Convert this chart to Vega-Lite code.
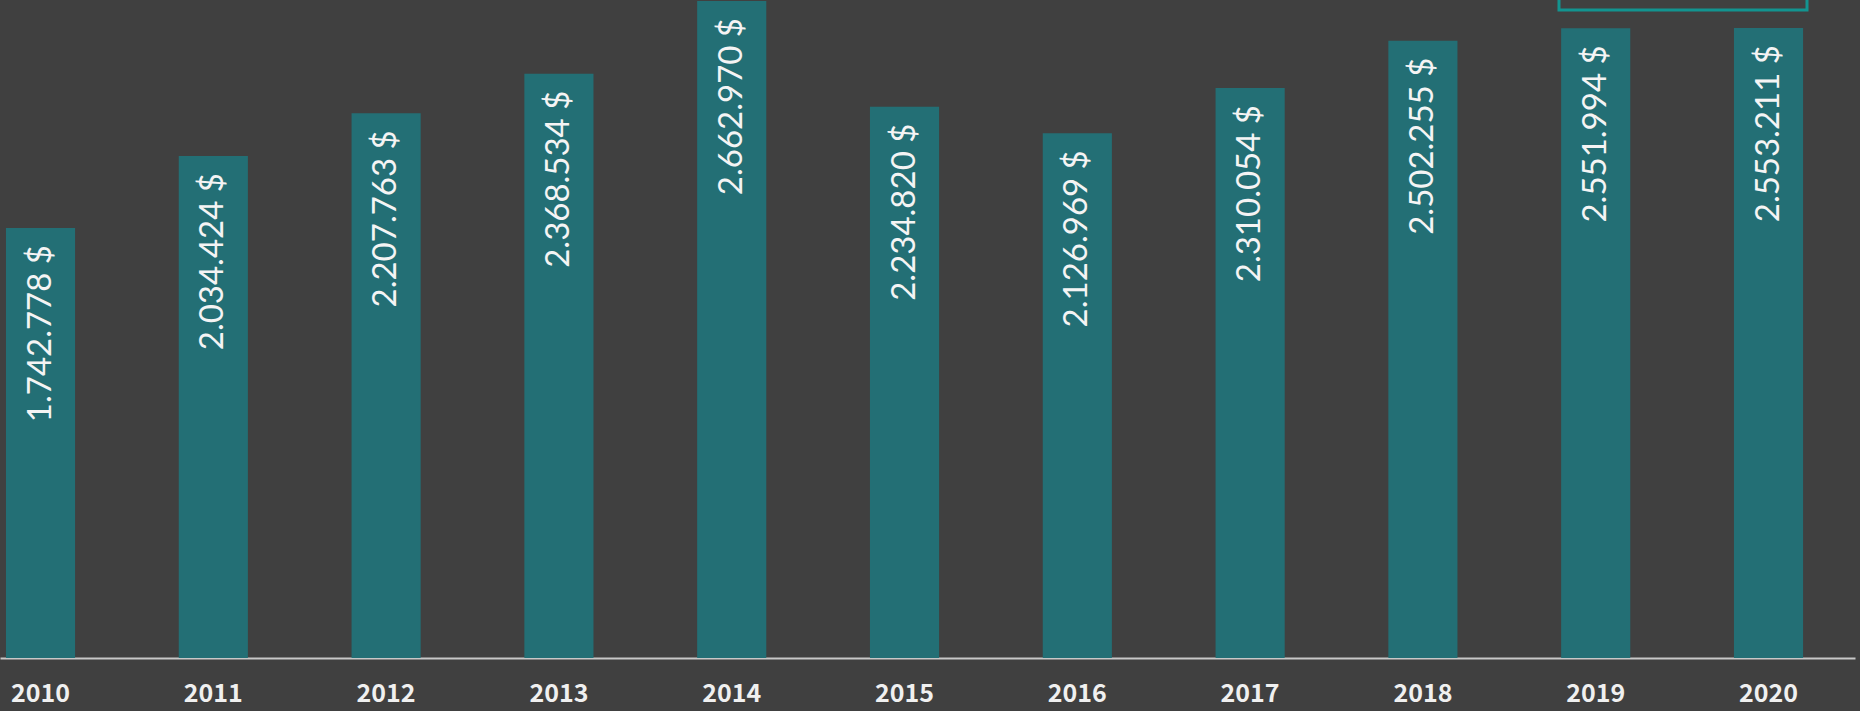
{
  "$schema": "https://vega.github.io/schema/vega-lite/v6.json",
  "width": 1855,
  "height": 658,
  "padding": {"left": 0, "top": 0, "right": 5, "bottom": 53},
  "autosize": {"type": "none"},
  "background": "#404040",
  "config": {
    "view": {"stroke": null},
    "legend": {"strokeWidth": 3}
  },
  "data": {"values": [
    {"year": "2010", "value": 1742778, "series": "Umsatz"},
    {"year": "2011", "value": 2034424, "series": "Umsatz"},
    {"year": "2012", "value": 2207763, "series": "Umsatz"},
    {"year": "2013", "value": 2368534, "series": "Umsatz"},
    {"year": "2014", "value": 2662970, "series": "Umsatz"},
    {"year": "2015", "value": 2234820, "series": "Umsatz"},
    {"year": "2016", "value": 2126969, "series": "Umsatz"},
    {"year": "2017", "value": 2310054, "series": "Umsatz"},
    {"year": "2018", "value": 2502255, "series": "Umsatz"},
    {"year": "2019", "value": 2551994, "series": "Umsatz"},
    {"year": "2020", "value": 2553211, "series": "Umsatz"}
  ]},
  "transform": [
    {"calculate": "replace(format(datum.value, ',d'), /,/g, '.') + ' $'", "as": "label"}
  ],
  "encoding": {
    "x": {
      "field": "year", "type": "nominal",
      "scale": {"paddingInner": 0.6, "paddingOuter": 0.1675, "align": 0.103},
      "axis": {
        "title": null, "labelAngle": 0, "ticks": false, "grid": false,
        "domainColor": "#c8c8c8", "domainWidth": 2,
        "labelFont": "Noto Sans CJK JP", "labelFontWeight": "bold", "labelFontSize": 25,
        "labelColor": "#f0f0f0", "labelBaseline": "middle", "labelPadding": 35
      }
    },
    "y": {
      "field": "value", "type": "quantitative",
      "scale": {"domain": [0, 2667000], "nice": false},
      "axis": null
    }
  },
  "layer": [
    {
      "mark": {"type": "bar"},
      "encoding": {
        "color": {
          "field": "series", "type": "nominal",
          "scale": {"range": ["#236f75"]},
          "legend": {
            "orient": "none", "legendX": 1559, "legendY": -22,
            "title": null, "strokeColor": "#129490",
            "padding": 8, "labelOffset": 216, "labelFontSize": 16, "labelColor": "#f0f0f0",
            "labelExpr": "''"
          }
        }
      }
    },
    {
      "mark": {"type": "text", "angle": -90, "align": "right", "baseline": "middle", "dx": -17, "font": "Lato", "fontSize": 33, "color": "#f4f4f4"},
      "encoding": {
        "text": {"field": "label", "type": "nominal"}
      }
    }
  ]
}
